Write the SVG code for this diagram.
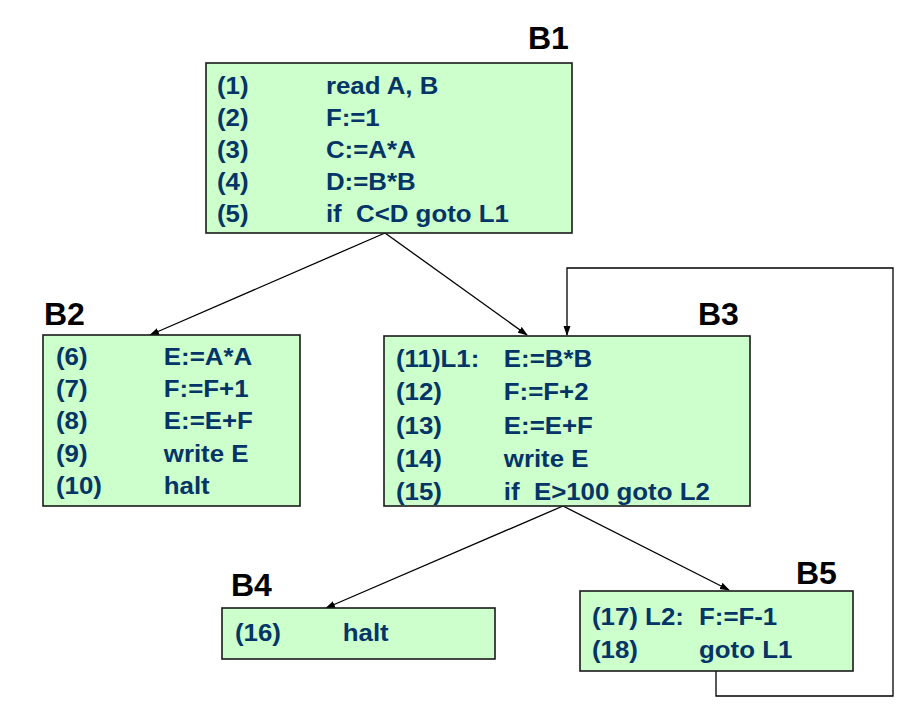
<svg xmlns="http://www.w3.org/2000/svg" width="908" height="717" viewBox="0 0 908 717">
<style>
.box{fill:#ccffcc;stroke:#1a1a1a;stroke-width:1.6}
.lbl{font-family:"Liberation Sans",Arial,sans-serif;font-weight:bold;font-size:32px;fill:#000}
.code{font-family:"Liberation Sans",Arial,sans-serif;font-weight:bold;font-size:23.5px;fill:#053466}
.edge{fill:none;stroke:#000;stroke-width:1.3}
</style>
<defs>
<marker id="ah" markerWidth="10" markerHeight="8" refX="9" refY="4" orient="auto" markerUnits="userSpaceOnUse">
<path d="M0,0.5 L10,4 L0,7.5 z" fill="#000"/>
</marker>
</defs>
<rect width="908" height="717" fill="#fff"/>
<g id="connectors">
<line class="edge" x1="385" y1="233" x2="150" y2="335" marker-end="url(#ah)"/>
<line class="edge" x1="385" y1="233" x2="527" y2="335" marker-end="url(#ah)"/>
<line class="edge" x1="563" y1="506" x2="326" y2="608" marker-end="url(#ah)"/>
<line class="edge" x1="563" y1="506" x2="729" y2="590" marker-end="url(#ah)"/>
<polyline class="edge" points="716,671 716,696 893,696 893,268 567,268 567,335" marker-end="url(#ah)"/>
</g>
<g id="B1">
<rect class="box" x="206" y="63" width="366" height="170"/>
<text class="lbl" x="528" y="49">B1</text>
<g class="code" transform="translate(217,0) scale(1.1,1)">
<text x="0" y="94">(1)</text><text x="99" y="94">read A, B</text>
<text x="0" y="126">(2)</text><text x="99" y="126">F:=1</text>
<text x="0" y="158">(3)</text><text x="99" y="158">C:=A*A</text>
<text x="0" y="190">(4)</text><text x="99" y="190">D:=B*B</text>
<text x="0" y="222">(5)</text><text x="99" y="222" xml:space="preserve">if  C&lt;D goto L1</text>
</g>
</g>
<g id="B2">
<rect class="box" x="43" y="335" width="257" height="171"/>
<text class="lbl" x="44" y="325">B2</text>
<g class="code" transform="translate(56,0) scale(1.1,1)">
<text x="0" y="365">(6)</text><text x="98" y="365">E:=A*A</text>
<text x="0" y="397">(7)</text><text x="98" y="397">F:=F+1</text>
<text x="0" y="429">(8)</text><text x="98" y="429">E:=E+F</text>
<text x="0" y="462">(9)</text><text x="98" y="462">write E</text>
<text x="0" y="494">(10)</text><text x="98" y="494">halt</text>
</g>
</g>
<g id="B3">
<rect class="box" x="384" y="336" width="366" height="170"/>
<text class="lbl" x="698" y="325">B3</text>
<g class="code" transform="translate(396,0) scale(1.1,1)">
<text x="0" y="367">(11)L1:</text><text x="98" y="367">E:=B*B</text>
<text x="0" y="400">(12)</text><text x="98" y="400">F:=F+2</text>
<text x="0" y="434">(13)</text><text x="98" y="434">E:=E+F</text>
<text x="0" y="467">(14)</text><text x="98" y="467">write E</text>
<text x="0" y="500">(15)</text><text x="98" y="500" xml:space="preserve">if  E&gt;100 goto L2</text>
</g>
</g>
<g id="B4">
<rect class="box" x="222" y="608" width="273" height="51"/>
<text class="lbl" x="231" y="596">B4</text>
<g class="code" transform="translate(235,0) scale(1.1,1)">
<text x="0" y="641">(16)</text><text x="98" y="641">halt</text>
</g>
</g>
<g id="B5">
<rect class="box" x="580" y="591" width="273" height="80"/>
<text class="lbl" x="796" y="584">B5</text>
<g class="code" transform="translate(592,0) scale(1.1,1)">
<text x="0" y="625">(17) L2:</text><text x="97.3" y="625">F:=F-1</text>
<text x="0" y="658">(18)</text><text x="97.3" y="658">goto L1</text>
</g>
</g>
</svg>
